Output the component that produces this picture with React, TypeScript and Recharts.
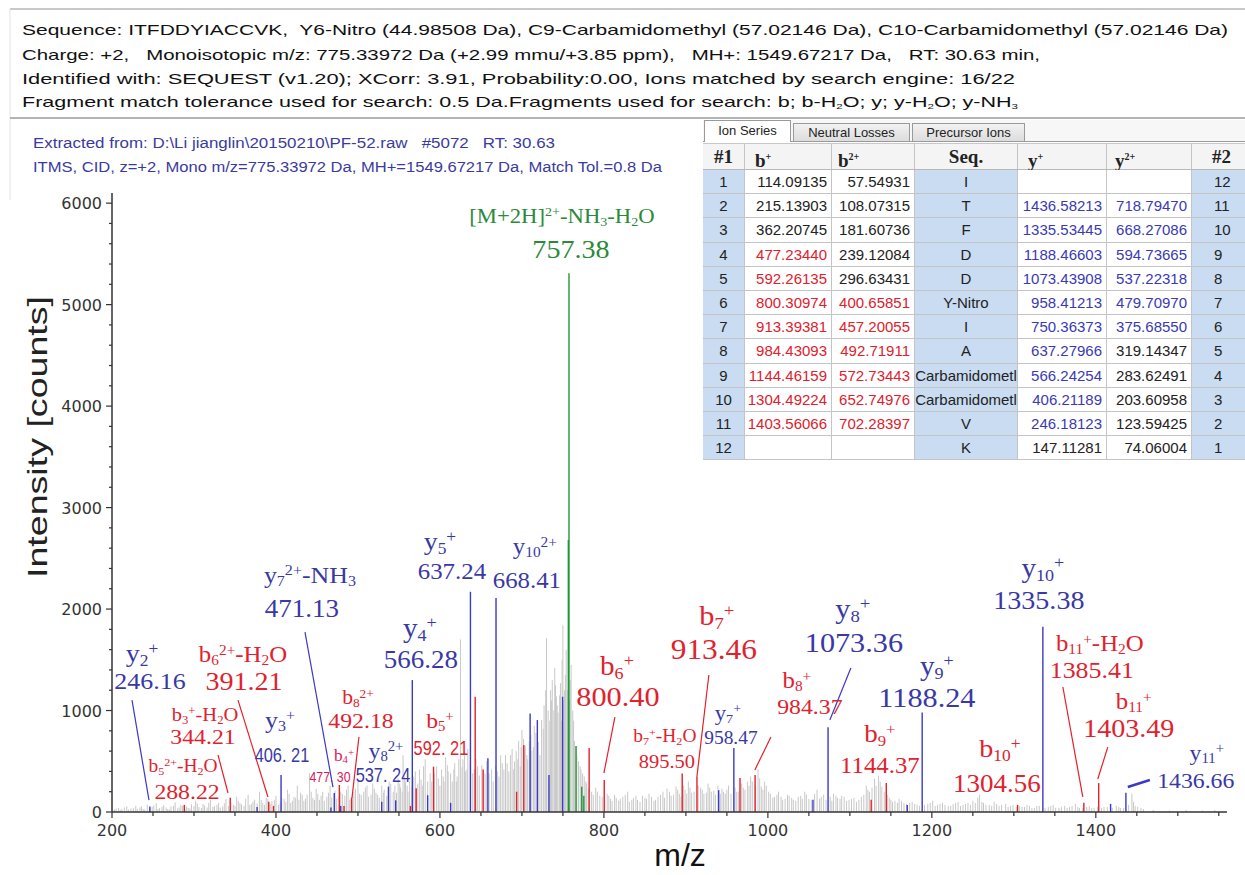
import React from 'react';
import { ComposedChart, XAxis, YAxis, Scatter, ReferenceLine, ReferenceDot } from 'recharts';

// ---------- spectrum (m/z, intensity) ----------
const noisePeaks: [number, number][] = [
  [203, 25], [205, 35], [208, 40], [210, 20], [212, 30], [215, 45], [218, 55], [220, 25], [223, 35], [226, 40],
  [229, 60], [231, 30], [234, 45], [236, 55], [238, 30], [240, 25], [243, 70], [246, 40], [249, 50], [251, 65],
  [254, 85], [256, 30], [258, 40], [261, 50], [263, 65], [266, 45], [268, 30], [270, 25], [272, 55], [275, 60],
  [277, 95], [280, 35], [282, 45], [284, 70], [286, 60], [289, 30], [291, 55], [293, 40], [295, 35], [297, 75],
  [300, 60], [302, 110], [304, 85], [306, 50], [309, 40], [311, 80], [313, 65], [316, 45], [318, 90], [320, 120],
  [323, 50], [325, 60], [328, 70], [330, 90], [332, 45], [335, 55], [337, 85], [339, 130], [342, 60], [345, 95],
  [348, 70], [350, 60], [352, 150], [354, 110], [356, 90], [358, 75], [361, 60], [363, 130], [366, 170], [368, 70],
  [370, 80], [372, 100], [374, 120], [377, 85], [380, 200], [382, 120], [384, 90], [386, 70], [388, 140], [390, 130],
  [393, 80], [395, 110], [398, 120], [400, 160], [403, 70], [405, 90], [407, 140], [410, 130], [412, 100], [414, 220],
  [416, 180], [418, 90], [420, 110], [422, 150], [424, 140], [426, 260], [428, 120], [430, 190], [432, 170], [434, 110],
  [436, 130], [438, 170], [441, 380], [443, 200], [445, 140], [447, 120], [449, 230], [451, 180], [453, 120], [455, 160],
  [457, 200], [459, 110], [462, 150], [464, 190], [466, 260], [468, 140], [472, 210], [474, 130], [477, 150], [479, 200],
  [481, 180], [484, 160], [486, 220], [488, 260], [490, 120], [493, 150], [495, 200], [497, 230], [500, 300], [502, 180],
  [504, 170], [507, 200], [509, 240], [511, 260], [513, 150], [516, 170], [518, 280], [520, 230], [522, 190], [524, 170],
  [526, 140], [529, 260], [531, 190], [532, 220], [535, 160], [537, 210], [538, 300], [540, 280], [543, 200], [545, 260],
  [547, 190], [549, 330], [551, 280], [552, 240], [554, 200], [555, 560], [557, 350], [558, 300], [560, 260], [561, 200],
  [563, 300], [566, 250], [568, 350], [570, 400], [573, 280], [575, 420], [577, 320], [579, 260], [580, 450], [582, 520],
  [585, 300], [588, 380], [590, 300], [593, 380], [596, 450], [598, 330], [600, 260], [602, 420], [604, 350], [605, 300],
  [607, 540], [609, 460], [610, 400], [613, 380], [615, 300], [617, 420], [618, 480], [620, 300], [621, 350], [623, 520],
  [625, 1700], [627, 440], [628, 520], [630, 560], [631, 400], [633, 420], [634, 620], [637, 500], [640, 380], [642, 420],
  [644, 520], [646, 450], [648, 360], [651, 460], [655, 380], [657, 500], [660, 380], [663, 420], [665, 300], [668, 460],
  [670, 400], [672, 350], [674, 560], [676, 480], [678, 420], [680, 560], [682, 480], [684, 400], [686, 560], [688, 620],
  [690, 420], [691, 500], [693, 600], [695, 520], [696, 700], [698, 450], [699, 640], [700, 808], [702, 720], [704, 650],
  [706, 560], [707, 520], [709, 700], [711, 760], [712, 600], [714, 640], [715, 850], [717, 780], [719, 600], [720, 690],
  [722, 560], [724, 906], [726, 820], [727, 1050], [729, 1200], [730, 1713], [732, 1000], [734, 900], [735, 1200], [736, 1100],
  [737, 1300], [739, 1000], [740, 1420], [741, 1250], [742, 1140], [743, 1050], [744, 980], [746, 1150], [747, 1270], [748, 900],
  [749, 1500], [750, 1840], [751, 1100], [752, 1200], [753, 1350], [754, 1600], [756, 1200], [758, 1100], [759, 1300], [760, 1450],
  [762, 1000], [763, 900], [764, 700], [766, 650], [767, 560], [769, 500], [771, 450], [772, 420], [774, 380], [776, 350],
  [778, 300], [779, 280], [781, 230], [785, 200], [787, 170], [790, 240], [792, 200], [795, 160], [798, 150], [801, 120],
  [804, 180], [806, 160], [808, 130], [810, 110], [813, 170], [815, 140], [818, 110], [820, 130], [823, 150], [826, 170],
  [829, 200], [831, 100], [834, 120], [836, 140], [839, 160], [841, 120], [844, 100], [847, 160], [850, 140], [852, 130],
  [855, 180], [858, 150], [861, 110], [863, 120], [866, 150], [869, 170], [872, 200], [874, 140], [877, 230], [880, 200],
  [882, 160], [885, 170], [888, 250], [890, 220], [892, 180], [894, 150], [897, 260], [899, 220], [901, 180], [903, 300],
  [905, 240], [907, 190], [910, 200], [915, 260], [918, 240], [920, 220], [922, 180], [925, 190], [927, 280], [929, 240],
  [931, 200], [934, 210], [936, 170], [939, 260], [942, 180], [944, 230], [946, 200], [948, 180], [950, 220], [952, 260],
  [955, 180], [960, 240], [962, 200], [964, 200], [968, 280], [970, 240], [972, 220], [975, 300], [977, 260], [979, 350],
  [981, 300], [985, 260], [988, 420], [990, 330], [992, 250], [994, 220], [996, 300], [998, 260], [1001, 200], [1003, 180],
  [1006, 140], [1008, 150], [1011, 170], [1013, 200], [1016, 150], [1018, 120], [1021, 130], [1024, 170], [1026, 160], [1029, 140],
  [1031, 120], [1034, 110], [1037, 150], [1040, 160], [1042, 130], [1045, 200], [1047, 170], [1050, 130], [1053, 120], [1057, 180],
  [1060, 220], [1063, 130], [1065, 150], [1068, 170], [1071, 120], [1076, 150], [1078, 110], [1080, 180], [1083, 160], [1085, 140],
  [1088, 130], [1090, 160], [1093, 150], [1096, 110], [1099, 120], [1102, 130], [1105, 140], [1108, 100], [1111, 120], [1114, 150],
  [1117, 170], [1120, 260], [1122, 220], [1124, 200], [1127, 240], [1130, 330], [1132, 260], [1135, 360], [1137, 300], [1139, 250],
  [1142, 200], [1146, 170], [1148, 140], [1150, 120], [1152, 100], [1155, 110], [1158, 90], [1160, 130], [1163, 110], [1166, 90],
  [1169, 80], [1173, 90], [1176, 100], [1179, 80], [1182, 70], [1185, 60], [1191, 70], [1195, 80], [1198, 90], [1201, 110],
  [1204, 60], [1207, 70], [1210, 80], [1213, 90], [1216, 70], [1220, 60], [1223, 60], [1226, 80], [1229, 90], [1232, 100],
  [1235, 60], [1238, 70], [1241, 80], [1244, 90], [1247, 70], [1250, 110], [1253, 90], [1256, 140], [1258, 170], [1261, 100],
  [1263, 90], [1266, 70], [1270, 70], [1273, 60], [1276, 100], [1279, 80], [1282, 60], [1285, 70], [1290, 80], [1293, 50],
  [1296, 60], [1299, 70], [1303, 50], [1307, 60], [1310, 50], [1313, 50], [1316, 70], [1319, 60], [1322, 40], [1325, 40],
  [1328, 60], [1331, 60], [1338, 40], [1342, 50], [1345, 60], [1348, 70], [1351, 40], [1355, 40], [1358, 50], [1362, 60],
  [1365, 40], [1368, 50], [1371, 60], [1375, 80], [1378, 50], [1380, 40], [1384, 40], [1389, 50], [1392, 60], [1395, 40],
  [1398, 40], [1402, 50], [1407, 40], [1410, 50], [1414, 50], [1420, 40], [1425, 60], [1428, 50], [1430, 40], [1434, 40],
  [1440, 70], [1444, 180], [1446, 100], [1448, 60], [1451, 50], [1455, 40], [1458, 30], [1470, 20], [1490, 15], [1510, 20],
  [1530, 15], [1545, 20],
];

const bPeaks: [number, number][] = [
  [288.2, 70], [344.2, 140], [391.2, 100], [397, 60], [477.3, 266], [483, 60], [492.2, 140], [564, 60], [571, 235],
  [592.2, 446], [643, 1136], [652.7, 420], [693.5, 200], [702.3, 660], [782, 630], [800.4, 315], [895.5, 380],
  [913.5, 345], [966, 335], [984.4, 365], [1126, 120], [1144.4, 286], [1304.6, 70], [1385.4, 90], [1403.5, 285],
];

const yPeaks: [number, number][] = [
  [246.2, 55], [377, 50], [406.2, 365], [467, 45], [471.1, 187], [479, 60], [529, 100], [537.2, 250], [546, 115],
  [566.3, 1300], [585, 165], [613, 90], [637.2, 2170], [658.5, 530], [668.4, 2108], [710, 970], [718.8, 906],
  [733, 365], [749.6, 1136], [940, 215], [958.5, 630], [1055, 120], [1073.4, 834], [1170, 70], [1188.2, 980],
  [1335.4, 1826], [1418, 80], [1436.7, 190],
];

const precursorPeaks: [number, number][] = [[756.6, 2680], [757.4, 5310], [766, 650], [773, 250], [775.5, 160]];

const xTicks = [200, 250, 300, 350, 400, 450, 500, 550, 600, 650, 700, 750, 800, 850, 900, 950, 1000, 1050, 1100, 1150, 1200, 1250, 1300, 1350, 1400, 1450, 1500, 1550];
const xTickLabels = [200, 400, 600, 800, 1000, 1200, 1400];
const yTicks = [0, 200, 400, 600, 800, 1000, 1200, 1400, 1600, 1800, 2000, 2200, 2400, 2600, 2800, 3000, 3200, 3400, 3600, 3800, 4000, 4200, 4400, 4600, 4800, 5000, 5200, 5400, 5600, 5800, 6000];
const yTickLabels = [0, 1000, 2000, 3000, 4000, 5000, 6000];

// ---------- ion table ----------
const rowNo = [1, 2, 3, 4, 5, 6, 7, 8, 9, 10, 11, 12];
const bPlus = ['114.09135', '215.13903', '362.20745', '477.23440', '592.26135', '800.30974', '913.39381', '984.43093', '1144.46159', '1304.49224', '1403.56066', ''];
const b2Plus = ['57.54931', '108.07315', '181.60736', '239.12084', '296.63431', '400.65851', '457.20055', '492.71911', '572.73443', '652.74976', '702.28397', ''];
const seqRes = ['I', 'T', 'F', 'D', 'D', 'Y-Nitro', 'I', 'A', 'Carbamidometl', 'Carbamidometl', 'V', 'K'];
const yPlus = ['', '1436.58213', '1335.53445', '1188.46603', '1073.43908', '958.41213', '750.36373', '637.27966', '566.24254', '406.21189', '246.18123', '147.11281'];
const y2Plus = ['', '718.79470', '668.27086', '594.73665', '537.22318', '479.70970', '375.68550', '319.14347', '283.62491', '203.60958', '123.59425', '74.06004'];
const rowNo2 = [12, 11, 10, 9, 8, 7, 6, 5, 4, 3, 2, 1];
const bPlusHit = [0, 0, 0, 1, 1, 1, 1, 1, 1, 1, 1, 0];
const b2PlusHit = [0, 0, 0, 0, 0, 1, 1, 1, 1, 1, 1, 0];
const yPlusHit = [0, 1, 1, 1, 1, 1, 1, 1, 1, 1, 1, 0];
const y2PlusHit = [0, 1, 1, 1, 1, 1, 1, 0, 0, 0, 0, 0];

// ---------- peak annotations (text + placement) ----------
const labels: any[] = [
  { ion: 'y_2^+', num: '246.16', s: 'y', mz: 246.3, at: 1212, gap: 27, dx: -8, ns: 24, is: 26, lead: [224.4, 1103, 245.1, 118] },
  { ion: 'b_6^{2+}-H_2O', num: '391.21', s: 'b', mz: 361, at: 1202, gap: 28, dx: -1, ns: 26, is: 23, lead: [353.7, 1103, 390.2, 148] },
  { ion: 'b_3^+-H_2O', num: '344.21', s: 'b', mz: 311, at: 670, gap: 23, dx: 2, ns: 22, is: 19, lead: [329.3, 562, 341.5, 187] },
  { ion: 'b_5^{2+}-H_2O', num: '288.22', s: 'b', mz: 291.5, at: 128, gap: 27, dx: -4, ns: 22, is: 18 },
  { ion: 'y_3^+', num: '406. 21', s: 'y', mz: 407.3, at: 493, gap: 34, dx: -2, ns: 20, is: 24, sans: true },
  { ion: 'y_7^{2+}-NH_3', num: '471.13', s: 'y', mz: 431.7, at: 1921, gap: 34, dx: 8, ns: 25, is: 24, lead: [435.4, 1773, 469.5, 246] },
  { ion: 'y_4^+', num: '566.28', s: 'y', mz: 576.8, at: 1419, gap: 31, dx: -1, ns: 25, is: 27 },
  { ion: 'b_8^{2+}', num: '492.18', s: 'b', mz: 503.7, at: 828, gap: 24, dx: -3, ns: 22, is: 20, lead: [501.2, 739, 492.7, 138] },
  { ion: 'b_4^+', num: '477. 30', s: 'm', mz: 465.9, at: 296, gap: 21, dx: 14, ns: 15, is: 16, sans: true },
  { ion: 'y_8^{2+}', num: '537. 24', s: 'y', mz: 530.5, at: 296, gap: 24, dx: 3, ns: 20, is: 22, sans: true },
  { ion: 'b_5^+', num: '592. 21', s: 'b', mz: 601.2, at: 562, gap: 27, dx: -1, ns: 20, is: 22, sans: true },
  { ion: 'y_5^+', num: '637.24', s: 'y', mz: 614.6, at: 2296, gap: 29, dx: -12, ns: 23, is: 26 },
  { ion: 'y_{10}^{2+}', num: '668.41', s: 'y', mz: 706, at: 2207, gap: 34, dx: 8, ns: 23, is: 23 },
  { ion: '[M+2H]^{2+}-NH_3-H_2O', num: '757.38', s: 'p', mz: 759.8, at: 5458, gap: 35, dx: -9, ns: 26, is: 21 },
  { ion: 'b_6^+', num: '800.40', s: 'b', mz: 817.1, at: 1044, gap: 31, dx: -1, ns: 28, is: 27, lead: [813.4, 936, 800, 384] },
  { ion: 'b_7^+', num: '913.46', s: 'b', mz: 934.1, at: 1507, gap: 34, dx: 3, ns: 29, is: 28, lead: [928, 1350, 913.4, 345] },
  { ion: 'b_7^+-H_2O', num: '895.50', s: 'b', mz: 876.8, at: 433, gap: 26, dx: -2, ns: 19, is: 18 },
  { ion: 'y_7^+', num: '958.47', s: 'y', mz: 954.9, at: 670, gap: 24, dx: -3, ns: 18, is: 21 },
  { ion: 'b_8^+', num: '984.37', s: 'b', mz: 1051.2, at: 966, gap: 26, dx: -13, ns: 22, is: 23, lead: [1003.7, 739, 984.1, 414] },
  { ion: 'y_8^+', num: '1073.36', s: 'y', mz: 1104.9, at: 1576, gap: 34, dx: -1, ns: 28, is: 28, lead: [1101.2, 1419, 1075.6, 906] },
  { ion: 'b_9^+', num: '1144.37', s: 'b', mz: 1136.6, at: 384, gap: 31, dx: 0, ns: 23, is: 25 },
  { ion: 'y_9^+', num: '1188.24', s: 'y', mz: 1193.9, at: 1034, gap: 32, dx: 10, ns: 28, is: 27 },
  { ion: 'b_{10}^+', num: '1304.56', s: 'b', mz: 1279.3, at: 197, gap: 35, dx: 3, ns: 25, is: 26 },
  { ion: 'y_{10}^+', num: '1335.38', s: 'y', mz: 1330.5, at: 2000, gap: 32, dx: 4, ns: 26, is: 27 },
  { ion: 'b_{11}^+-H_2O', num: '1385.41', s: 'b', mz: 1395.1, at: 1320, gap: 27, dx: 8, ns: 24, is: 23, lead: [1359.8, 1232, 1384.1, 148] },
  { ion: 'b_{11}^+', num: '1403.49', s: 'b', mz: 1440.2, at: 739, gap: 28, dx: 5, ns: 26, is: 23, lead: [1414.6, 640, 1402.4, 325] },
  { ion: 'y_{11}^+', num: '1436.66', s: 'y', mz: 1521.9, at: 236, gap: 28, dx: 11, ns: 22, is: 22, lead: [1465.9, 315, 1439, 246], lw: 2.5 },
];

const serif = "'Liberation Serif', 'Times New Roman', serif";
const sans = "'Liberation Sans', Arial, sans-serif";
const lineColor: any = { n: '#c8c8c8', b: '#e42029', y: '#3a3ac4', p: '#22963a' };
const textColor: any = { b: '#e0222e', y: '#3939a6', p: '#2b8a39', m: '#d8205a' };

// tiny markup: _x / _{..} subscript, ^x / ^{..} superscript
function parseRich(src: string) {
  const out: { t: string; s: number }[] = [];
  let buf = '';
  let i = 0;
  const flush = () => {
    if (buf) out.push({ t: buf, s: 0 });
    buf = '';
  };
  while (i < src.length) {
    const c = src[i];
    if (c === '_' || c === '^') {
      flush();
      let t = '';
      if (src[i + 1] === '{') {
        const j = src.indexOf('}', i + 2);
        t = src.slice(i + 2, j);
        i = j + 1;
      } else {
        t = src[i + 1];
        i += 2;
      }
      out.push({ t, s: c === '_' ? -1 : 1 });
    } else {
      buf += c;
      i++;
    }
  }
  flush();
  return out;
}

function RichText({ x, y, src, size, fill, family, sx = 1 }: any) {
  const segs = parseRich(src);
  let prev = 0;
  return (
    <text transform={`translate(${x},${y}) scale(${sx},1)`} textAnchor="middle" fontFamily={family} fontSize={size} fill={fill}>
      {segs.map((g, k) => {
        const shift = g.s === -1 ? size * 0.14 : g.s === 1 ? -size * 0.32 : 0;
        const dy = shift - prev;
        prev = shift;
        return (
          <tspan key={k} dy={dy} fontSize={g.s ? size * 0.62 : size}>
            {g.t}
          </tspan>
        );
      })}
    </text>
  );
}

const AnnoLabel = ({ cx, cy, l }: any) => {
  const fill = textColor[l.s];
  return (
    <g>
      <RichText x={cx + (l.dx || 0)} y={cy - l.gap} src={l.ion} size={l.is} fill={fill} family={serif} sx={1.08} />
      <RichText x={cx} y={cy} src={l.num} size={l.ns} fill={fill} family={l.sans ? sans : serif} sx={l.sans ? 0.82 : 1.08} />
    </g>
  );
};

const XTick = (p: any) => {
  const v = p.payload.value;
  const major = xTickLabels.includes(v);
  return (
    <g>
      <line x1={p.x} x2={p.x} y1={p.y} y2={p.y + (major ? 6 : 4)} stroke="#333" strokeWidth={1.2} />
      {major && (
        <text x={p.x} y={p.y + 24} textAnchor="middle" fontFamily="'DejaVu Sans', sans-serif" fontSize={16} fill="#333">
          {v}
        </text>
      )}
    </g>
  );
};

const YTick = (p: any) => {
  const v = p.payload.value;
  const major = yTickLabels.includes(v);
  return (
    <g>
      <line x1={p.x} x2={p.x - (major ? 6 : 3)} y1={p.y} y2={p.y} stroke="#333" strokeWidth={1.2} />
      {major && (
        <text x={p.x - 10} y={p.y + 6} textAnchor="end" fontFamily="'DejaVu Sans', sans-serif" fontSize={16} fill="#333">
          {v}
        </text>
      )}
    </g>
  );
};

const peakLines = (peaks: [number, number][], color: string, w: number, key: string) =>
  peaks.map(([mz, h], k) => (
    <ReferenceLine
      key={key + k}
      segment={[{ x: mz, y: 0 }, { x: mz, y: h }]}
      stroke={color}
      strokeWidth={w}
    />
  ));

const allPeaks = [...noisePeaks, ...bPeaks, ...yPeaks, ...precursorPeaks].map(([mz, i]) => ({ mz, i }));

function Header() {
  const lines = [
    { t: 'Sequence: ITFDDYIACCVK,  Y6-Nitro (44.98508 Da), C9-Carbamidomethyl (57.02146 Da), C10-Carbamidomethyl (57.02146 Da)', y: 35, len: 1206 },
    { t: 'Charge: +2,   Monoisotopic m/z: 775.33972 Da (+2.99 mmu/+3.85 ppm),   MH+: 1549.67217 Da,   RT: 30.63 min,', y: 60, len: 1018 },
    { t: 'Identified with: SEQUEST (v1.20); XCorr: 3.91, Probability:0.00, Ions matched by search engine: 16/22', y: 84, len: 993 },
  ];
  return (
    <svg width={1245} height={200} style={{ position: 'absolute', left: 0, top: 0 }}>
      <line x1={10} x2={1245} y1={9} y2={9} stroke="#c8c8c8" strokeWidth={2} />
      <line x1={10} x2={10} y1={9} y2={875} stroke="#e2e2e2" strokeWidth={1} />
      <line x1={10} x2={1245} y1={118} y2={118} stroke="#b4b4b4" strokeWidth={2} />
      {lines.map((l, k) => (
        <text key={k} x={22} y={l.y} fontFamily={sans} fontSize={15} fill="#111" textLength={l.len} lengthAdjust="spacingAndGlyphs" style={{ whiteSpace: 'pre' }}>
          {l.t}
        </text>
      ))}
      <text x={22} y={107} fontFamily={sans} fontSize={15} fill="#111" textLength={996} lengthAdjust="spacingAndGlyphs">
        Fragment match tolerance used for search: 0.5 Da.Fragments used for search: b; b-H<tspan fontSize={8} dy={2}>2</tspan>
        <tspan dy={-2}>O; y; y-H</tspan>
        <tspan fontSize={8} dy={2}>2</tspan>
        <tspan dy={-2}>O; y-NH</tspan>
        <tspan fontSize={8} dy={2}>3</tspan>
      </text>
      <text x={33} y={148} fontFamily={sans} fontSize={14} fill="#3b3b9e" textLength={522} lengthAdjust="spacingAndGlyphs" style={{ whiteSpace: 'pre' }}>
        {'Extracted from: D:\\Li jianglin\\20150210\\PF-52.raw   #5072   RT: 30.63'}
      </text>
      <text x={33} y={172} fontFamily={sans} fontSize={14} fill="#3b3b9e" textLength={629} lengthAdjust="spacingAndGlyphs">
        ITMS, CID, z=+2, Mono m/z=775.33972 Da, MH+=1549.67217 Da, Match Tol.=0.8 Da
      </text>
    </svg>
  );
}

function IonTable() {
  const widths = [42, 87, 83, 103, 89, 85, 60];
  const blue = '#c9dcf1';
  const rowH = 24.2;
  const red = '#e0202c';
  const yb = '#3a3ab4';
  const cell = (w: number, bg: string, align: any, color: string, content: any, k: number) => (
    <div
      key={k}
      style={{
        width: w,
        height: '100%',
        boxSizing: 'border-box',
        borderRight: '1px solid #c4c4c4',
        background: bg,
        color,
        textAlign: align,
        padding: align === 'right' ? '0 4px 0 0' : 0,
        lineHeight: rowH - 1 + 'px',
        overflow: 'hidden',
        whiteSpace: 'nowrap',
        flexShrink: 0,
      }}
    >
      {content}
    </div>
  );
  const hdr = (content: any, align: any, pad = 0) => ({ content, align, pad });
  const heads = [
    hdr('#1', 'center'),
    hdr(<span>b<sup style={{ fontSize: 10 }}>+</sup></span>, 'left', 10),
    hdr(<span>b<sup style={{ fontSize: 10 }}>2+</sup></span>, 'left', 6),
    hdr('Seq.', 'center'),
    hdr(<span>y<sup style={{ fontSize: 10 }}>+</sup></span>, 'left', 10),
    hdr(<span>y<sup style={{ fontSize: 10 }}>2+</sup></span>, 'left', 8),
    hdr('#2', 'left', 20),
  ];
  const tab = (label: string, left: number, width: number, active: boolean) => (
    <div
      style={{
        position: 'absolute',
        left,
        top: active ? 0 : 3,
        width,
        height: active ? 22 : 19,
        boxSizing: 'border-box',
        border: '1px solid #9a9a9a',
        borderBottom: active ? 'none' : '1px solid #9a9a9a',
        background: active ? '#fff' : 'linear-gradient(#f2f2f2, #dcdcdc)',
        fontFamily: sans,
        fontSize: 13,
        color: '#222',
        textAlign: 'center',
        lineHeight: active ? '20px' : '17px',
      }}
    >
      {label}
    </div>
  );
  return (
    <div style={{ position: 'absolute', left: 703, top: 120, width: 542, height: 342, overflow: 'hidden', background: '#fff', zIndex: 2 }}>
      <div style={{ position: 'absolute', left: 0, top: 0, width: 542, height: 22, background: '#f7f7f7', borderBottom: '1px solid #9a9a9a', boxSizing: 'border-box' }} />
      {tab('Ion Series', 1, 87, true)}
      {tab('Neutral Losses', 90, 117, false)}
      {tab('Precursor Ions', 209, 113, false)}
      <div style={{ position: 'absolute', left: 0, top: 23, display: 'flex', height: 27, width: 600, borderBottom: '1px solid #b8b8b8', borderTop: '1px solid #c8c8c8', background: '#f4f4f4', boxSizing: 'border-box' }}>
        {heads.map((h, k) => (
          <div
            key={k}
            style={{
              width: widths[k],
              flexShrink: 0,
              boxSizing: 'border-box',
              borderRight: '1px solid #c4c4c4',
              textAlign: h.align,
              paddingLeft: h.pad,
              fontFamily: serif,
              fontWeight: 'bold',
              fontSize: 19,
              lineHeight: '25px',
              color: '#222',
            }}
          >
            {h.content}
          </div>
        ))}
      </div>
      {rowNo.map((n, r) => (
        <div
          key={r}
          style={{
            position: 'absolute',
            left: 0,
            top: 50 + r * rowH,
            height: rowH,
            width: 600,
            display: 'flex',
            borderBottom: '1px solid #c4c4c4',
            boxSizing: 'border-box',
            fontFamily: sans,
            fontSize: 15,
          }}
        >
          {cell(widths[0], blue, 'center', '#222', n, 0)}
          {cell(widths[1], '#fff', 'right', bPlusHit[r] ? red : '#222', bPlus[r], 1)}
          {cell(widths[2], '#fff', 'right', b2PlusHit[r] ? red : '#222', b2Plus[r], 2)}
          {cell(widths[3], blue, 'center', '#222', seqRes[r], 3)}
          {cell(widths[4], '#fff', 'right', yPlusHit[r] ? yb : '#222', yPlus[r], 4)}
          {cell(widths[5], '#fff', 'right', y2PlusHit[r] ? yb : '#222', y2Plus[r], 5)}
          {cell(widths[6], blue, 'left', '#222', <span style={{ paddingLeft: 22 }}>{rowNo2[r]}</span>, 6)}
        </div>
      ))}
    </div>
  );
}

export default function App() {
  return (
    <div style={{ position: 'absolute', left: 0, top: 0, width: 1245, height: 875, background: '#fff', overflow: 'hidden' }}>
      <Header />
      <div style={{ position: 'absolute', left: 0, top: 0 }}>
        <ComposedChart width={1245} height={875} margin={{ top: 193, right: 18, bottom: 0, left: 0 }} data={allPeaks}>
          <XAxis
            type="number"
            dataKey="mz"
            domain={[200, 1560]}
            allowDataOverflow
            ticks={xTicks}
            interval={0}
            tick={<XTick />}
            tickLine={false}
            tickSize={0}
            tickMargin={0}
            height={63}
            axisLine={{ stroke: '#333', strokeWidth: 1.5 }}
            label={{
              content: (lp: any) => {
                const vb = lp.viewBox || { x: 112, y: 812, width: 1115 };
                return (
                  <text x={vb.x + 568} y={vb.y + 54} textAnchor="middle" fontFamily={sans} fontSize={32} fill="#111">
                    m/z
                  </text>
                );
              },
            }}
          />
          <YAxis
            type="number"
            dataKey="i"
            domain={[0, 6100]}
            allowDataOverflow
            ticks={yTicks}
            interval={0}
            tick={<YTick />}
            tickLine={false}
            tickSize={0}
            tickMargin={0}
            width={112}
            axisLine={{ stroke: '#333', strokeWidth: 1.5 }}
            label={{
              content: (lp: any) => {
                const vb = lp.viewBox || { x: 0, y: 193 };
                return (
                  <text
                    transform={`translate(${vb.x + 37},${vb.y + 244}) rotate(-90)`}
                    textAnchor="middle"
                    dominantBaseline="central"
                    fontFamily={sans}
                    fontSize={28}
                    fill="#222"
                    textLength={282}
                    lengthAdjust="spacingAndGlyphs"
                  >
                    Intensity [counts]
                  </text>
                );
              },
            }}
          />
          <Scatter dataKey="i" fill="none" shape={() => <g />} isAnimationActive={false} />
          {peakLines(noisePeaks, lineColor.n, 1, 'n')}
          {peakLines(bPeaks, lineColor.b, 1.4, 'b')}
          {peakLines(yPeaks, lineColor.y, 1.4, 'y')}
          {peakLines(precursorPeaks, lineColor.p, 1.4, 'p')}
          {labels
            .filter((l) => l.lead)
            .map((l, k) => (
              <ReferenceLine
                key={'lead' + k}
                segment={[{ x: l.lead[0], y: l.lead[1] }, { x: l.lead[2], y: l.lead[3] }]}
                stroke={lineColor[l.s === 'm' ? 'b' : l.s]}
                strokeWidth={l.lw || 1.2}
              />
            ))}
          {labels.map((l, k) => (
            <ReferenceDot key={'lab' + k} x={l.mz} y={l.at} r={0} shape={(p: any) => <AnnoLabel cx={p.cx} cy={p.cy} l={l} />} />
          ))}
        </ComposedChart>
      </div>
      <IonTable />
    </div>
  );
}
